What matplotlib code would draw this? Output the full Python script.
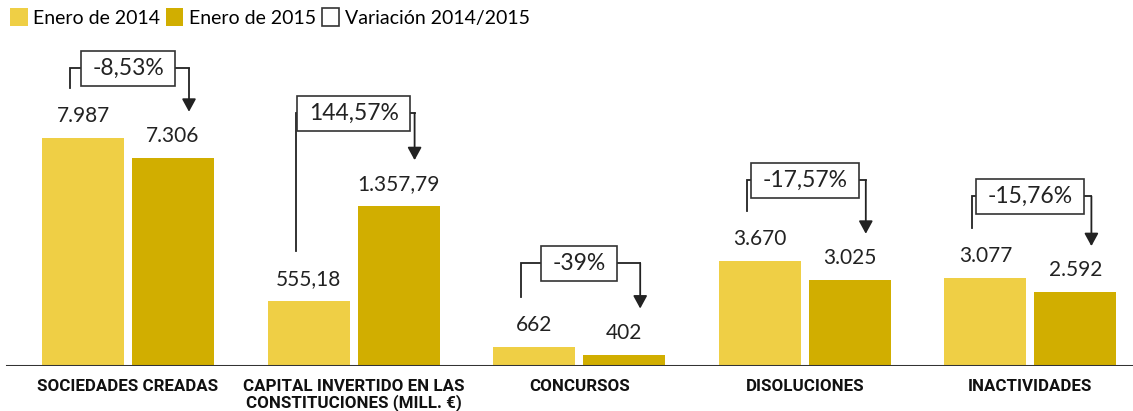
import matplotlib
matplotlib.use('Agg')
import matplotlib.pyplot as plt
from matplotlib.patches import Patch
from matplotlib.path import Path

# datos
categorias = ['SOCIEDADES CREADAS', 'CAPITAL INVERTIDO EN LAS\nCONSTITUCIONES (MILL. €)',
              'CONCURSOS', 'DISOLUCIONES', 'INACTIVIDADES']
enero_2014 = [7987, 555.18, 662, 3670, 3077]
enero_2015 = [7306, 1357.79, 402, 3025, 2592]
decimales = [0, 2, 0, 0, 0]
variacion = ['-8,53%', '144,57%', '-39%', '-17,57%', '-15,76%']
# el capital va en millones de euros, se dibuja con otra escala
escala = [1, 4.13, 1, 1, 1]

c2014 = '#efcf45'
c2015 = '#d1ae00'
oscuro = '#222222'
fuente = ['Lato', 'DejaVu Sans']
fuente_cat = ['Roboto', 'DejaVu Sans']


def formato(v, d):
    s = f'{v:,.{d}f}'
    return s.replace(',', 'X').replace('.', ',').replace('X', '.')


def caja(x0, y0, width, height, mutation_size):
    # recuadro mas ancho que alto
    px, py = 0.5 * mutation_size, 0.3 * mutation_size
    a, b = x0 - px, y0 - py
    c, d = x0 + width + px, y0 + height + py
    return Path([(a, b), (c, b), (c, d), (a, d), (a, b)], closed=True)


W, H = 1133, 411
fig = plt.figure(figsize=(W / 100, H / 100), dpi=100)
base = 366
ax = fig.add_axes([0, (H - base) / H, 1, base / H])
ymax = base / 0.0285
ax.set_ylim(0, ymax)
ax.set_xlim(-128 / 225.6, (W - 128) / 225.6)
ax.axis('off')

px_y = ymax / base
px_x = 1 / 225.6
ancho = 82 * px_x
desp = 45 * px_x

x = list(range(len(categorias)))
h14 = [v * e for v, e in zip(enero_2014, escala)]
h15 = [v * e for v, e in zip(enero_2015, escala)]

ax.bar([i - desp for i in x], h14, width=ancho, color=c2014, zorder=2)
ax.bar([i + desp for i in x], h15, width=ancho, color=c2015, zorder=2)
ax.axhline(0, xmin=7 / W, xmax=1, color='#333333', lw=2.2, zorder=3)

caja_off = [70, 93, 84, 81, 82]

for i in x:
    for xx, h, v in [(i - desp, h14[i], enero_2014[i]), (i + desp, h15[i], enero_2015[i])]:
        ax.text(xx, h + 16 * px_y, formato(v, decimales[i]), ha='center', va='baseline',
                fontsize=15, color=oscuro, family=fuente)

    # corchete con la variacion
    xl = i - desp - 13 * px_x
    xr = i + desp + 16 * px_x
    yb = max(h14[i], h15[i]) + caja_off[i] * px_y
    ax.plot([xl, xl, xr], [h14[i] + 50 * px_y, yb, yb], color=oscuro, lw=1.3,
            solid_joinstyle='miter', zorder=3)
    ax.annotate('', xy=(xr, h15[i] + 46 * px_y), xytext=(xr, yb),
                arrowprops=dict(arrowstyle='-|>,head_length=0.55,head_width=0.3',
                                mutation_scale=14, color=oscuro, lw=1.3,
                                shrinkA=0, shrinkB=0), zorder=3)
    ax.text(i, yb, variacion[i], ha='center', va='center', fontsize=16.5,
            color=oscuro, family=fuente, zorder=4,
            bbox=dict(boxstyle=caja, fc='white', ec='#333333', lw=1.2))

    ax.annotate(categorias[i], xy=(i, 0), xycoords=('data', 'axes fraction'),
                xytext=(0, -9), textcoords='offset points', ha='center', va='top',
                fontsize=12.2, fontweight='bold', color='#111111', family=fuente_cat,
                linespacing=1.05, annotation_clip=False)

handles = [Patch(facecolor=c2014, edgecolor='none'),
           Patch(facecolor=c2015, edgecolor='none'),
           Patch(facecolor='white', edgecolor='#333333', lw=1.2)]
fig.legend(handles, ['Enero de 2014', 'Enero de 2015', 'Variación 2014/2015'],
           loc='upper left', bbox_to_anchor=(10 / W, 1 - 8 / H), ncol=3, frameon=False,
           borderpad=0, borderaxespad=0, handlelength=0.9, handleheight=1.05,
           handletextpad=0.28, columnspacing=0.3,
           prop={'family': fuente, 'size': 14})

fig.savefig('out.png', dpi=100)
